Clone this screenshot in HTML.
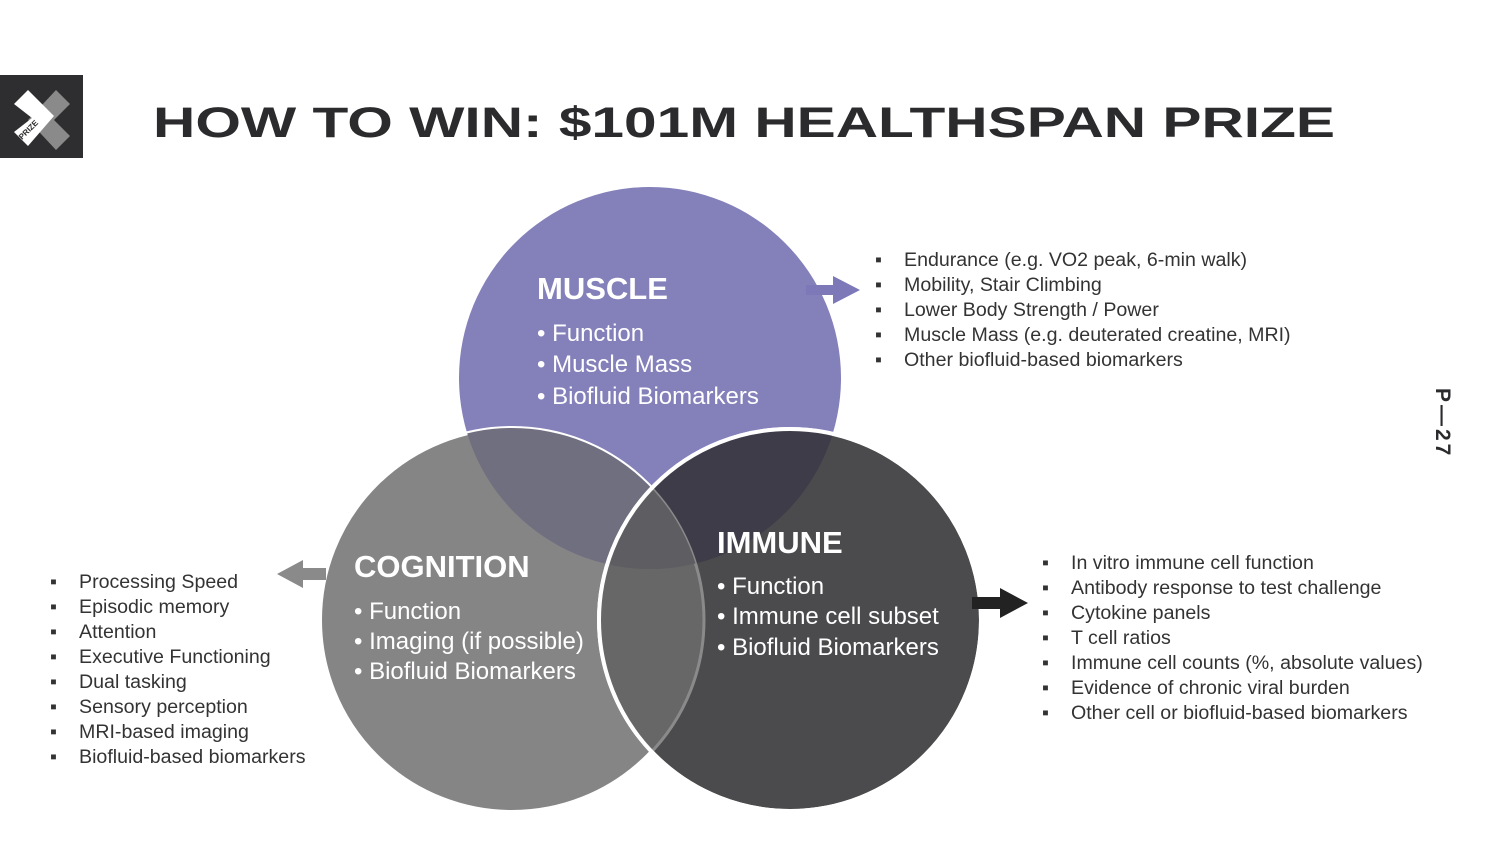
<!DOCTYPE html>
<html><head><meta charset="utf-8"><style>
html,body{margin:0;padding:0;background:#fff;}
svg{display:block;font-family:"Liberation Sans",sans-serif;}
</style></head><body>
<svg width="1500" height="844" viewBox="0 0 1500 844" xmlns="http://www.w3.org/2000/svg">
<defs>
<clipPath id="cm"><circle cx="650" cy="378" r="191"/></clipPath>
<clipPath id="cc"><circle cx="512" cy="620" r="192"/></clipPath>
<clipPath id="ci"><circle cx="790" cy="620" r="191"/></clipPath>
</defs>
<!-- logo -->
<rect x="0" y="75" width="83" height="83" fill="#2e2d2f"/>
<polygon points="56,90 70,104 54,120 70,136 56,150 28,120" fill="#8a8a8a"/>
<polygon points="14,104 28,90 54,116 28,146 14,132 32,118" fill="#fff"/>
<text x="0" y="0" font-size="8" font-weight="bold" fill="#2e2d2f" transform="translate(22,140) rotate(-45)">PRIZE</text>
<!-- title -->
<text x="153" y="137" font-size="43" font-weight="bold" fill="#2b2a2c" textLength="1182" lengthAdjust="spacingAndGlyphs">HOW TO WIN: $101M HEALTHSPAN PRIZE</text>
<!-- page number -->
<text x="0" y="0" font-size="21" font-weight="bold" fill="#2b2a2c" letter-spacing="3" transform="translate(1436,388) rotate(90)">P—27</text>
<!-- circles -->
<circle cx="650" cy="378" r="191" fill="#8480ba"/>
<circle cx="512" cy="620" r="192" fill="#868586" stroke="#fff" stroke-width="4"/>
<g clip-path="url(#cc)"><circle cx="650" cy="378" r="191" fill="#706f7f"/></g>
<circle cx="790" cy="620" r="191" fill="#4b4a4c" stroke="#fff" stroke-width="4"/>
<g clip-path="url(#ci)">
<circle cx="650" cy="378" r="191" fill="#3e3c49"/>
<circle cx="512" cy="620" r="192" fill="#676767" stroke="#8a8a8a" stroke-width="3"/>
<g clip-path="url(#cm)"><circle cx="512" cy="620" r="192" fill="#5d5d62"/></g>
</g>
<circle cx="790" cy="620" r="191" fill="none" stroke="#fff" stroke-width="4"/>
<!-- circle text -->
<g fill="#fff">
<text x="537" y="299" font-size="31" font-weight="bold">MUSCLE</text>
<text x="537" y="341" font-size="24">• Function</text>
<text x="537" y="372" font-size="24">• Muscle Mass</text>
<text x="537" y="404" font-size="24">• Biofluid Biomarkers</text>
<text x="354" y="577" font-size="31" font-weight="bold">COGNITION</text>
<text x="354" y="619" font-size="24">• Function</text>
<text x="354" y="649" font-size="24">• Imaging (if possible)</text>
<text x="354" y="679" font-size="24">• Biofluid Biomarkers</text>
<text x="717" y="553" font-size="31" font-weight="bold">IMMUNE</text>
<text x="717" y="594" font-size="24">• Function</text>
<text x="717" y="624" font-size="24">• Immune cell subset</text>
<text x="717" y="655" font-size="24">• Biofluid Biomarkers</text>
</g>
<!-- arrows -->
<polygon points="806,285 833,285 833,276 860,290 833,304 833,295 806,295" fill="#7d79b8"/>
<polygon points="326,568 303,568 303,560 277,574 303,588 303,580 326,580" fill="#8a8a8a"/>
<polygon points="972,597 1000,597 1000,588 1028,603 1000,618 1000,609 972,609" fill="#222"/>
<!-- lists -->
<g fill="#333" font-size="19.6">
<g>
<text x="875" y="266">▪</text><text x="904" y="266">Endurance (e.g. VO2 peak, 6-min walk)</text>
<text x="875" y="291">▪</text><text x="904" y="291">Mobility, Stair Climbing</text>
<text x="875" y="316">▪</text><text x="904" y="316">Lower Body Strength / Power</text>
<text x="875" y="341">▪</text><text x="904" y="341">Muscle Mass (e.g. deuterated creatine, MRI)</text>
<text x="875" y="366">▪</text><text x="904" y="366">Other biofluid-based biomarkers</text>
</g>
<g>
<text x="50" y="588">▪</text><text x="79" y="588">Processing Speed</text>
<text x="50" y="613">▪</text><text x="79" y="613">Episodic memory</text>
<text x="50" y="638">▪</text><text x="79" y="638">Attention</text>
<text x="50" y="663">▪</text><text x="79" y="663">Executive Functioning</text>
<text x="50" y="688">▪</text><text x="79" y="688">Dual tasking</text>
<text x="50" y="713">▪</text><text x="79" y="713">Sensory perception</text>
<text x="50" y="738">▪</text><text x="79" y="738">MRI-based imaging</text>
<text x="50" y="763">▪</text><text x="79" y="763">Biofluid-based biomarkers</text>
</g>
<g>
<text x="1042" y="569">▪</text><text x="1071" y="569">In vitro immune cell function</text>
<text x="1042" y="594">▪</text><text x="1071" y="594">Antibody response to test challenge</text>
<text x="1042" y="619">▪</text><text x="1071" y="619">Cytokine panels</text>
<text x="1042" y="644">▪</text><text x="1071" y="644">T cell ratios</text>
<text x="1042" y="669">▪</text><text x="1071" y="669">Immune cell counts (%, absolute values)</text>
<text x="1042" y="694">▪</text><text x="1071" y="694">Evidence of chronic viral burden</text>
<text x="1042" y="719">▪</text><text x="1071" y="719">Other cell or biofluid-based biomarkers</text>
</g>
</g>
</svg>
</body></html>
